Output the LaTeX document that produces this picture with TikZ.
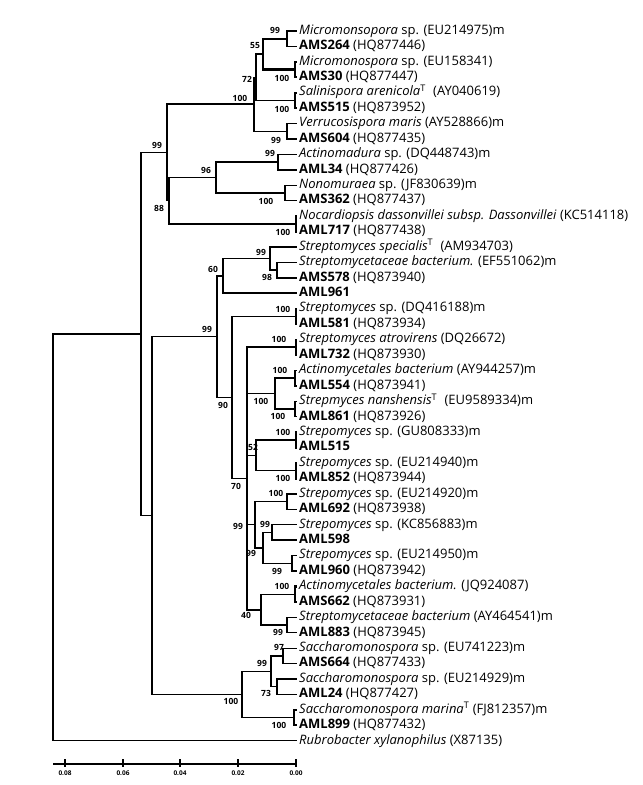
\documentclass[tikz,border=0pt]{standalone}
\usepackage{fontspec}
\setmainfont{Open Sans}
\begin{document}
\def\RY#1{31+15.43*(#1)}
\begin{tikzpicture}[x=1pt,y=-1pt,
  br/.style={line width=1.4pt},
  thk/.style={line width=2.2pt},
  leaf/.style={anchor=west,inner sep=0pt,font=\fontsize{13}{14}\selectfont,text height=9.5pt,text depth=3pt},
  bs/.style={inner sep=0pt,font=\fontsize{8.5}{9}\selectfont\bfseries},
  tk/.style={inner sep=0pt,font=\fontsize{6.5}{7}\selectfont\bfseries}]
\useasboundingbox (0,0) rectangle (643,785);
% tips
\foreach \i in {0,...,46} {\coordinate (t\i) at (297,{\RY{\i}});}
% leaf labels
\node[leaf] (l0) at (299,{\RY{0}}) {\textit{Micromonsopora} sp. (EU214975)m};
\node[leaf] (l1) at (299,{\RY{1}}) {\textbf{AMS264} (HQ877446)};
\node[leaf] (l2) at (299,{\RY{2}}) {\textit{Micromonospora} sp. (EU158341)};
\node[leaf] (l3) at (299,{\RY{3}}) {\textbf{AMS30} (HQ877447)};
\node[leaf] (l4) at (299,{\RY{4}}) {\textit{Salinispora arenicola}\textsuperscript{T}\hspace{4pt} (AY040619)};
\node[leaf] (l5) at (299,{\RY{5}}) {\textbf{AMS515} (HQ873952)};
\node[leaf] (l6) at (299,{\RY{6}}) {\textit{Verrucosispora maris} (AY528866)m};
\node[leaf] (l7) at (299,{\RY{7}}) {\textbf{AMS604} (HQ877435)};
\node[leaf] (l8) at (299,{\RY{8}}) {\textit{Actinomadura} sp. (DQ448743)m};
\node[leaf] (l9) at (299,{\RY{9}}) {\textbf{AML34} (HQ877426)};
\node[leaf] (l10) at (299,{\RY{10}}) {\textit{Nonomuraea} sp. (JF830639)m};
\node[leaf] (l11) at (299,{\RY{11}}) {\textbf{AMS362} (HQ877437)};
\node[leaf] (l12) at (299,{\RY{12}}) {\textit{Nocardiopsis dassonvillei subsp. Dassonvillei} (KC514118)};
\node[leaf] (l13) at (299,{\RY{13}}) {\textbf{AML717} (HQ877438)};
\node[leaf] (l14) at (299,{\RY{14}}) {\textit{Streptomyces specialis}\textsuperscript{T}\hspace{4pt} (AM934703)};
\node[leaf] (l15) at (299,{\RY{15}}) {\textit{Streptomycetaceae bacterium.} (EF551062)m};
\node[leaf] (l16) at (299,{\RY{16}}) {\textbf{AMS578} (HQ873940)};
\node[leaf] (l17) at (299,{\RY{17}}) {\textbf{AML961}};
\node[leaf] (l18) at (299,{\RY{18}}) {\textit{Streptomyces} sp. (DQ416188)m};
\node[leaf] (l19) at (299,{\RY{19}}) {\textbf{AML581} (HQ873934)};
\node[leaf] (l20) at (299,{\RY{20}}) {\textit{Streptomyces atrovirens} (DQ26672)};
\node[leaf] (l21) at (299,{\RY{21}}) {\textbf{AML732} (HQ873930)};
\node[leaf] (l22) at (299,{\RY{22}}) {\textit{Actinomycetales bacterium} (AY944257)m};
\node[leaf] (l23) at (299,{\RY{23}}) {\textbf{AML554} (HQ873941)};
\node[leaf] (l24) at (299,{\RY{24}}) {\textit{Strepmyces nanshensis}\textsuperscript{T}\hspace{4pt} (EU9589334)m};
\node[leaf] (l25) at (299,{\RY{25}}) {\textbf{AML861} (HQ873926)};
\node[leaf] (l26) at (299,{\RY{26}}) {\textit{Strepomyces} sp. (GU808333)m};
\node[leaf] (l27) at (299,{\RY{27}}) {\textbf{AML515}};
\node[leaf] (l28) at (299,{\RY{28}}) {\textit{Strepomyces} sp. (EU214940)m};
\node[leaf] (l29) at (299,{\RY{29}}) {\textbf{AML852} (HQ873944)};
\node[leaf] (l30) at (299,{\RY{30}}) {\textit{Strepomyces} sp. (EU214920)m};
\node[leaf] (l31) at (299,{\RY{31}}) {\textbf{AML692} (HQ873938)};
\node[leaf] (l32) at (299,{\RY{32}}) {\textit{Strepomyces} sp. (KC856883)m};
\node[leaf] (l33) at (299,{\RY{33}}) {\textbf{AML598}};
\node[leaf] (l34) at (299,{\RY{34}}) {\textit{Strepomyces} sp. (EU214950)m};
\node[leaf] (l35) at (299,{\RY{35}}) {\textbf{AML960} (HQ873942)};
\node[leaf] (l36) at (299,{\RY{36}}) {\textit{Actinomycetales bacterium.} (JQ924087)};
\node[leaf] (l37) at (299,{\RY{37}}) {\textbf{AMS662} (HQ873931)};
\node[leaf] (l38) at (299,{\RY{38}}) {\textit{Streptomycetaceae bacterium} (AY464541)m};
\node[leaf] (l39) at (299,{\RY{39}}) {\textbf{AML883} (HQ873945)};
\node[leaf] (l40) at (299,{\RY{40}}) {\textit{Saccharomonospora} sp. (EU741223)m};
\node[leaf] (l41) at (299,{\RY{41}}) {\textbf{AMS664} (HQ877433)};
\node[leaf] (l42) at (299,{\RY{42}}) {\textit{Saccharomonospora} sp. (EU214929)m};
\node[leaf] (l43) at (299,{\RY{43}}) {\textbf{AML24} (HQ877427)};
\node[leaf] (l44) at (299,{\RY{44}}) {\textit{Saccharomonospora marina}\textsuperscript{T} (FJ812357)m};
\node[leaf] (l45) at (299,{\RY{45}}) {\textbf{AML899} (HQ877432)};
\node[leaf] (l46) at (299,{\RY{46}}) {\textit{Rubrobacter xylanophilus} (X87135)};
% internal nodes
\coordinate (P01) at (287,{\RY{0.5}});
\coordinate (P23) at (295,{\RY{2.5}});
\coordinate (N55) at (263,{\RY{1.5}});
\coordinate (P45) at (295,{\RY{4.5}});
\coordinate (N72) at (256,{\RY{3}});
\coordinate (P67) at (287,{\RY{6.5}});
\coordinate (N100) at (254,{\RY{4.75}});
\coordinate (P89) at (278,{\RY{8.5}});
\coordinate (P1011) at (285,{\RY{10.5}});
\coordinate (N96) at (216,{\RY{9.5}});
\coordinate (P1213) at (296,{\RY{12.5}});
\coordinate (N88) at (169,{\RY{11}});
\coordinate (N99a) at (167,{\RY{7.875}});
\coordinate (P1516) at (277,{\RY{15.5}});
\coordinate (N99sp) at (270,{\RY{14.75}});
\coordinate (N60) at (223,{\RY{15.875}});
\coordinate (P1819) at (296,{\RY{18.5}});
\coordinate (P2021) at (296,{\RY{20.5}});
\coordinate (P2223) at (295,{\RY{22.5}});
\coordinate (P2425) at (295,{\RY{24.5}});
\coordinate (N100b) at (275,{\RY{23.5}});
\coordinate (P2627) at (296,{\RY{26.5}});
\coordinate (P2829) at (296,{\RY{28.5}});
\coordinate (N52) at (256,{\RY{27.5}});
\coordinate (P3031) at (287,{\RY{30.5}});
\coordinate (Nc) at (272,{\RY{32.5}});
\coordinate (P3435) at (292,{\RY{34.5}});
\coordinate (Nb) at (263,{\RY{33.5}});
\coordinate (Na) at (255,{\RY{32}});
\coordinate (P3637) at (295,{\RY{36.5}});
\coordinate (P3839) at (287,{\RY{38.5}});
\coordinate (N40) at (261,{\RY{37.5}});
\coordinate (N70) at (247,{\RY{29}});
\coordinate (N90) at (232,{\RY{23.75}});
\coordinate (N99st) at (217,{\RY{19.8125}});
\coordinate (P4041) at (283,{\RY{40.5}});
\coordinate (P4243) at (277,{\RY{42.5}});
\coordinate (N99s) at (271,{\RY{41.5}});
\coordinate (P4445) at (294,{\RY{44.5}});
\coordinate (N100s) at (242,{\RY{43}});
\coordinate (N152) at (152,{\RY{31.40625}});
\coordinate (N141) at (141,{\RY{19.640625}});
\coordinate (root) at (53,{\RY{32.8203}});
% branches
\draw[br] (P01) |- (t0) (P01) |- (t1);
\draw[thk] (P23) |- (t2) (P23) |- (t3);
\draw[thk] (N55) |- (P01) (N55) |- (P23);
\draw[thk] (P45) |- (t4) (P45) |- (t5);
\draw[br] (N72) |- (N55) (N72) |- (P45);
\draw[br] (P67) |- (t6) (P67) |- (t7);
\draw[br] (N100) |- (N72) (N100) |- (P67);
\draw[br] (P89) |- (t8) (P89) |- (t9);
\draw[br] (P1011) |- (t10) (P1011) |- (t11);
\draw[br] (N96) |- (P89) (N96) |- (P1011);
\draw[thk] (P1213) |- (t12) (P1213) |- (t13);
\draw[br] (N88) |- (N96) (N88) |- (P1213);
\draw[thk] (N99a) |- (N100);
\draw[br] (N99a) |- (N88);
\draw[br] (P1516) |- (t15) (P1516) |- (t16);
\draw[br] (N99sp) |- (t14) (N99sp) |- (P1516);
\draw[br] (N60) |- (N99sp);
\draw[thk] (N60) |- (t17);
\draw[thk] (P1819) |- (t18) (P1819) |- (t19);
\draw[thk] (P2021) |- (t20) (P2021) |- (t21);
\draw[br] (P2223) |- (t22) (P2223) |- (t23);
\draw[br] (P2425) |- (t24) (P2425) |- (t25);
\draw[br] (N100b) |- (P2223) (N100b) |- (P2425);
\draw[thk] (P2627) |- (t26) (P2627) |- (t27);
\draw[thk] (P2829) |- (t28) (P2829) |- (t29);
\draw[br] (N52) |- (P2627) (N52) |- (P2829);
\draw[br] (P3031) |- (t30) (P3031) |- (t31);
\draw[br] (Nc) |- (t32) (Nc) |- (t33);
\draw[br] (P3435) |- (t34) (P3435) |- (t35);
\draw[br] (Nb) |- (Nc) (Nb) |- (P3435);
\draw[br] (Na) |- (P3031) (Na) |- (Nb);
\draw[thk] (P3637) |- (t36) (P3637) |- (t37);
\draw[br] (P3839) |- (t38) (P3839) |- (t39);
\draw[br] (N40) |- (P3637) (N40) |- (P3839);
\draw[thk] (N70) |- (P2021) (N70) |- (N40);
\draw[br] (N70) |- (N100b) (N70) |- (N52) (N70) |- (Na);
\draw[br] (N90) |- (P1819) (N90) |- (N70);
\draw[br] (N99st) |- (N60) (N99st) |- (N90);
\draw[br] (P4041) |- (t40) (P4041) |- (t41);
\draw[br] (P4243) |- (t42) (P4243) |- (t43);
\draw[br] (N99s) |- (P4041) (N99s) |- (P4243);
\draw[thk] (P4445) |- (t44) (P4445) |- (t45);
\draw[br] (N100s) |- (N99s) (N100s) |- (P4445);
\draw[br] (N152) |- (N99st) (N152) |- (N100s);
\draw[br] (N141) |- (N99a) (N141) |- (N152);
\draw[br] (root) |- (N141) (root) |- (t46);
% bootstrap values
\node[bs] (b01) at (275,{\RY{0}-1}) {99};
\node[bs] (b23) at (282,{\RY{3}+1}) {100};
\node[bs] (b55) at (255,{\RY{1}-1}) {55};
\node[bs] (b45) at (282,{\RY{5}+1}) {100};
\node[bs] (b72) at (247,79) {72};
\node[bs] (b67) at (276,{\RY{7}+1}) {99};
\node[bs] (b100) at (240,98) {100};
\node[bs] (b89) at (270,{\RY{8}-1}) {99};
\node[bs] (b1011) at (266,{\RY{11}+1}) {100};
\node[bs] (b96) at (206,170) {96};
\node[bs] (b1213) at (283,{\RY{13}+1}) {100};
\node[bs] (b88) at (159,208) {88};
\node[bs] (b99a) at (157,145) {99};
\node[bs] (b99sp) at (261,252) {99};
\node[bs] (b1516) at (267,{\RY{16}}) {98};
\node[bs] (b60) at (213,269) {60};
\node[bs] (b1819) at (283,{\RY{18}+1}) {100};
\node[bs] (b2021) at (279,{\RY{20}}) {100};
\node[bs] (b2223) at (280,{\RY{22}}) {100};
\node[bs] (b2425) at (278,{\RY{25}}) {100};
\node[bs] (b100b) at (261,401) {100};
\node[bs] (b2627) at (283,{\RY{26}}) {100};
\node[bs] (b2829) at (283,{\RY{29}}) {100};
\node[bs] (b52) at (253,447) {52};
\node[bs] (b3031) at (276,{\RY{30}}) {100};
\node[bs] (bc) at (265,{\RY{32}}) {99};
\node[bs] (bb) at (251,553) {99};
\node[bs] (ba) at (238,526) {99};
\node[bs] (b3435) at (277,{\RY{35}}) {99};
\node[bs] (b3637) at (282,{\RY{36}}) {100};
\node[bs] (b40) at (246,615) {40};
\node[bs] (b3839) at (278,{\RY{39}}) {99};
\node[bs] (b70) at (236,486) {70};
\node[bs] (b90) at (223,405) {90};
\node[bs] (b99st) at (207,329) {99};
\node[bs] (b4041) at (279,{\RY{40}-1}) {97};
\node[bs] (b99s) at (262,663) {99};
\node[bs] (b4243) at (266,{\RY{43}-1}) {73};
\node[bs] (b4445) at (279,{\RY{45}}) {100};
\node[bs] (b100s) at (231,701) {100};
% scale axis
\coordinate (a0) at (53,764);
\coordinate (a1) at (297,764);
\draw[br] (a0) -- (a1);
\foreach \xx/\lab/\nm in {65/0.08/k8,123/0.06/k6,180/0.04/k4,238/0.02/k2,296/0.00/k0} {
  \coordinate (\nm) at (\xx,764);
  \draw[br] ([yshift=5pt]\nm) -- ([yshift=-3pt]\nm);
  \node[tk] (l\nm) at (\xx,773) {\lab};
}
\end{tikzpicture}
\end{document}
